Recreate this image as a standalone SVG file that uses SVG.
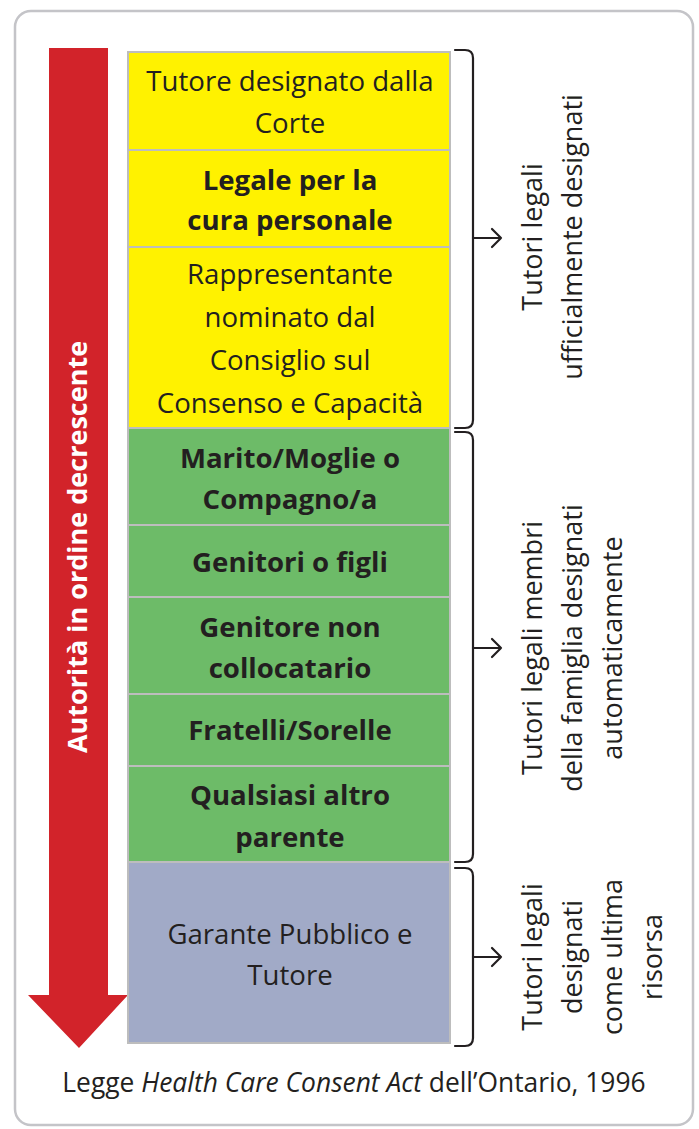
<svg xmlns="http://www.w3.org/2000/svg" width="699" height="1129" viewBox="0 0 699 1129">
<style>
.t{font-family:"Open Sans","Noto Sans",sans-serif;font-size:27.6px;fill:#231f20;text-anchor:middle}
.b{font-weight:bold}
.box{stroke:#bdbdbd;stroke-width:2}
.y{fill:#fff200}.g{fill:#6dbb68}.p{fill:#a1aac7}
.br{fill:none;stroke:#231f20;stroke-width:2.2;stroke-linejoin:round;stroke-linecap:round}
.lab{font-family:"Open Sans","Noto Sans",sans-serif;font-size:27px;fill:#231f20;text-anchor:middle}
</style>
<rect x="15" y="11" width="678" height="1114" rx="16" fill="#fff" stroke="#c4c4c8" stroke-width="2.5"/>
<g id="authority-arrow">
<polygon points="49,48 108,48 108,995 128,995 79,1048 28,995 49,995" fill="#d2232a"/>
<text class="t b" transform="translate(87,547) rotate(-90)" style="fill:#fff;font-size:27px">Autorità in ordine decrescente</text>
</g>
<g id="n1"><rect class="box y" x="128" y="52" width="322" height="98"/>
<text class="t" x="290" y="91">Tutore designato dalla</text><text class="t" x="290" y="133">Corte</text></g>
<g id="n2"><rect class="box y" x="128" y="150" width="322" height="97"/>
<text class="t b" x="290" y="190">Legale per la</text><text class="t b" x="290" y="230">cura personale</text></g>
<g id="n3"><rect class="box y" x="128" y="247" width="322" height="181"/>
<text class="t" x="290" y="284">Rappresentante</text><text class="t" x="290" y="327">nominato dal</text><text class="t" x="290" y="370">Consiglio sul</text><text class="t" x="290" y="413">Consenso e Capacità</text></g>
<g id="n4"><rect class="box g" x="128" y="428" width="322" height="97"/>
<text class="t b" x="290" y="468">Marito/Moglie o</text><text class="t b" x="290" y="509">Compagno/a</text></g>
<g id="n5"><rect class="box g" x="128" y="525" width="322" height="72"/>
<text class="t b" x="290" y="572">Genitori o figli</text></g>
<g id="n6"><rect class="box g" x="128" y="597" width="322" height="97"/>
<text class="t b" x="290" y="637">Genitore non</text><text class="t b" x="290" y="678">collocatario</text></g>
<g id="n7"><rect class="box g" x="128" y="694" width="322" height="72"/>
<text class="t b" x="290" y="740">Fratelli/Sorelle</text></g>
<g id="n8"><rect class="box g" x="128" y="766" width="322" height="96"/>
<text class="t b" x="290" y="805">Qualsiasi altro</text><text class="t b" x="290" y="847">parente</text></g>
<g id="n9"><rect class="box p" x="128" y="862" width="322" height="181"/>
<text class="t" x="290" y="944">Garante Pubblico e</text><text class="t" x="290" y="985">Tutore</text></g>
<g id="connectors">
<path class="br" d="M455,50 H465 Q473,50 473,58 V420 Q473,428 465,428 H455"/>
<path class="br" d="M473,238 H501 M492,229 L501,238 L492,247"/>
<path class="br" d="M455,432 H465 Q473,432 473,440 V854 Q473,862 465,862 H455"/>
<path class="br" d="M473,648 H501 M492,639 L501,648 L492,657"/>
<path class="br" d="M455,868 H465 Q473,868 473,876 V1038 Q473,1046 465,1046 H455"/>
<path class="br" d="M473,957 H501 M492,948 L501,957 L492,966"/>
</g>
<g id="label1">
<text class="lab" transform="translate(542,237) rotate(-90)">Tutori legali</text>
<text class="lab" transform="translate(582,237) rotate(-90)">ufficialmente designati</text>
</g>
<g id="label2">
<text class="lab" transform="translate(542,648) rotate(-90)">Tutori legali membri</text>
<text class="lab" transform="translate(582,648) rotate(-90)">della famiglia designati</text>
<text class="lab" transform="translate(622,648) rotate(-90)">automaticamente</text>
</g>
<g id="label3">
<text class="lab" transform="translate(542,957) rotate(-90)">Tutori legali</text>
<text class="lab" transform="translate(582,957) rotate(-90)">designati</text>
<text class="lab" transform="translate(622,957) rotate(-90)">come ultima</text>
<text class="lab" transform="translate(662,957) rotate(-90)">risorsa</text>
</g>
<text class="t" x="354" y="1092" style="font-size:26.4px">Legge <tspan font-style="italic">Health Care Consent Act</tspan> dell’Ontario, 1996</text>
</svg>
